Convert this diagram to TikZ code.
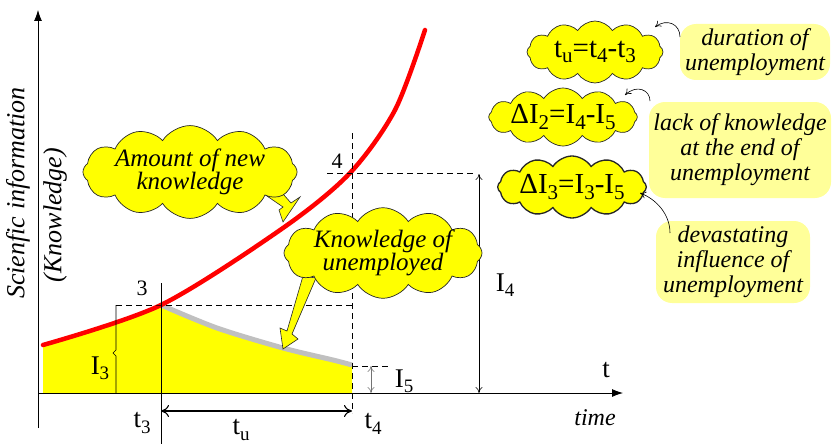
\documentclass[tikz,border=0pt]{standalone}
\usepackage{fontspec}
\setmainfont{Liberation Serif}
\usetikzlibrary{shapes.symbols,arrows.meta}
\definecolor{yel}{HTML}{FFFF00}
\definecolor{hl}{HTML}{FFFF99}
\definecolor{gr}{HTML}{C0C0C0}
\definecolor{rd}{HTML}{FF0000}
\newcommand\lsub[1]{\raisebox{-0.2em}{\fontsize{19}{19}\selectfont #1}}
\newcommand\fsub[1]{\raisebox{-0.2em}{\fontsize{21}{21}\selectfont #1}}
\begin{document}
\begin{tikzpicture}[x=1pt,y=-1pt,
  lab/.style={inner sep=0pt, font=\fontsize{27}{27}\selectfont},
  flab/.style={inner sep=0pt, font=\fontsize{29}{29}\selectfont},
  num/.style={inner sep=0pt, font=\fontsize{22}{22}\selectfont},
  ital/.style={inner sep=0pt, align=center, font=\fontsize{26}{26}\selectfont\itshape},
  cloudbox/.style={cloud, cloud puffs=12, cloud puff arc=115, cloud ignores aspect, draw=black!85, fill=yel, line width=0.7pt, inner sep=0pt, align=center},
  cloudtxt/.style={font=\fontsize{25}{23}\selectfont\itshape},
  hlbox/.style={fill=hl, rounded corners=16pt, inner sep=0pt, align=center, font=\fontsize{24}{25}\selectfont\itshape},
  dashline/.style={dash pattern=on 6pt off 4pt, line width=0.6pt},
  thinarr/.style={{To[length=6pt,width=7pt]}-{To[length=6pt,width=7pt]}, line width=0.6pt},
  curvarr/.style={-{To[length=6pt,width=7pt]}, line width=0.6pt},
  tail/.style={fill=yel, draw=black!85, line width=0.6pt, line join=miter}
]
\useasboundingbox (0,0) rectangle (833,444);
% key points
\coordinate (o) at (38,393);
\coordinate (ytop) at (38,10);
\coordinate (ybot) at (38,428);
\coordinate (xend) at (623,393);
\coordinate (p3) at (161,305);
\coordinate (p4) at (352,173);
\coordinate (p5) at (352,366);
% yellow area
\begin{scope}
\clip (43,400) -- plot[smooth] coordinates {(43,345) (161,305) (283,228) (350,173) (395,110) (425,30)} -- (425,400) -- cycle;
\fill[yel] (43,393) -- (43,270) -- (161,270) -- plot[smooth] coordinates {(161,305) (217,328) (283,348) (333,360) (352,365)} -- (352,393) -- cycle;
\end{scope}
% gray curve
\draw[gr, line width=5pt] plot[smooth] coordinates {(161,305) (217,328) (283,348) (333,360) (352,365)};
% red curve
\draw[rd, line width=4.5pt, line cap=round] plot[smooth] coordinates {(43,345) (161,305) (283,228) (350,173) (395,110) (425,30)};
% dashed guides
\coordinate (d3l) at (116,305);
\coordinate (d4t) at (352,133);
\coordinate (d4b) at (352,413);
\coordinate (d4l) at (327,173);
\coordinate (d4r) at (476,173);
\coordinate (d5r) at (390,366);
\draw[dashline] (d3l) -- (p3) -- (352,305);
\draw[dashline] (d4t) -- (d4b);
\draw[dashline] (d4l) -- (d4r);
\draw[dashline] (p5) -- (d5r);
% t3 vertical
\coordinate (t3top) at (161,283);
\coordinate (t3bot) at (161,444);
\draw[line width=0.7pt] (t3top) -- (t3bot);
% I3 brace
\draw[line width=0.6pt] (d3l) -- (116,350) -- (113,353) -- (116,356) -- (116,393);
% axes
\draw[line width=0.8pt, -{Latex[length=11pt,width=8pt]}] (ybot) -- (ytop);
\draw[line width=0.8pt, -{Latex[length=11pt,width=8pt]}] (o) -- (xend);
% I5 arrow
\coordinate (i5t) at (371,366);
\coordinate (i5b) at (371,393);
\draw[thinarr, black!55] (i5t) -- (i5b);
% I4 arrow
\coordinate (i4t) at (479,174);
\coordinate (i4b) at (479,393);
\draw[thinarr] (i4t) -- (i4b);
% tu arrow
\coordinate (tul) at (161,411);
\coordinate (tur) at (352,411);
\draw[{To[length=8pt,width=12pt]}-{To[length=8pt,width=12pt]}, line width=1.1pt] (tul) -- (tur);
% labels
\node[num] (n3) at (142,288) {3};
\node[num] (n4) at (337,161) {4};
\node[lab] (lI3) at (100,368) {I\lsub{3}};
\node[lab] (lI5) at (404,381) {I\lsub{5}};
\node[lab] (lI4) at (505,285) {I\lsub{4}};
\node[lab] (lt) at (606,370) {t};
\node[lab] (lt3) at (142,423) {t\lsub{3}};
\node[lab] (ltu) at (241,430) {t\lsub{u}};
\node[lab] (lt4) at (373,424) {t\lsub{4}};
\node[inner sep=0pt, font=\fontsize{24}{24}\selectfont\itshape] (ltime) at (595,418) {time};
\node[ital, rotate=90] (ylab1) at (18,193) {Scienfic information};
\node[ital, rotate=90] (ylab2) at (55,215) {(Knowledge)};
% cloud tails
\draw[tail] (264,194) -- (276,186) -- (291,203) -- (300,197) -- (283,222) -- (279,210) -- (283,207) -- cycle;
\draw[tail] (303,276) -- (316,278) -- (292,334) -- (298,339) -- (283,349) -- (280,328) -- (287,331) -- cycle;
% clouds
\node[cloudbox, minimum width=188pt, minimum height=84pt, cloudtxt] (c1) at (190,172) {Amount of new\\knowledge};
\node[cloudbox, minimum width=168pt, minimum height=80pt, cloudtxt] (c2) at (383,253) {Knowledge of\\unemployed};
\node[cloudbox, minimum width=136pt, minimum height=62pt, flab] (c3) at (595,52) {t\fsub{u}=t\fsub{4}-t\fsub{3}};
\node[cloudbox, minimum width=140pt, minimum height=58pt, flab] (c4) at (563,117) {ΔI\fsub{2}=I\fsub{4}-I\fsub{5}};
\node[cloudbox, minimum width=140pt, minimum height=62pt, flab, line width=1.3pt] (c5) at (572,187) {ΔI\fsub{3}=I\fsub{3}-I\fsub{5}};
% highlighted notes
\node[hlbox, minimum width=150pt, minimum height=56pt] (h1) at (755,52) {duration of\\unemployment};
\node[hlbox, minimum width=182pt, minimum height=96pt] (h2) at (740,150) {lack of knowledge\\at the end of\\unemployment};
\node[hlbox, minimum width=154pt, minimum height=82pt] (h3) at (733,262) {devastating\\influence of\\unemployment};
% curved arrows
\coordinate (a1s) at (680,37);
\coordinate (a1e) at (655,27);
\coordinate (a2s) at (650,101);
\coordinate (a2e) at (625,95);
\coordinate (a3s) at (670,233);
\coordinate (a3e) at (640,193);
\draw[curvarr] (a1s) .. controls (680,24) and (667,18) .. (a1e);
\draw[curvarr] (a2s) .. controls (650,90) and (637,84) .. (a2e);
\draw[curvarr] (a3s) .. controls (670,214) and (656,199) .. (a3e);
\end{tikzpicture}
\end{document}
